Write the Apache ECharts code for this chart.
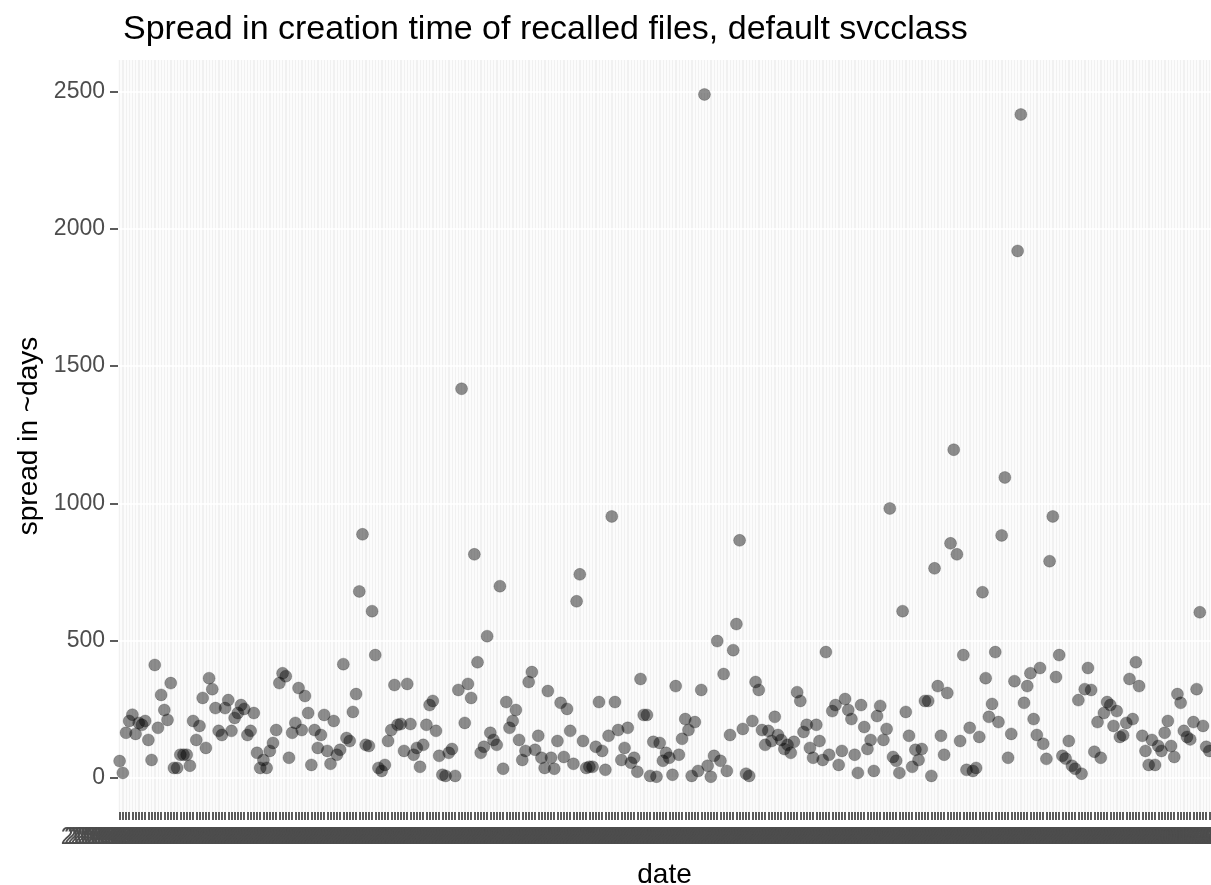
<!DOCTYPE html>
<html>
<head>
<meta charset="utf-8">
<title>Spread in creation time of recalled files</title>
<script src="https://cdn.jsdelivr.net/npm/echarts@6/dist/echarts.min.js"></script>
<style>
  html, body { margin: 0; padding: 0; background: #fff; }
  #chart { width: 1211px; height: 885px; }
</style>
</head>
<body>
<div id="chart"></div>
<script>
// spread (days) per recall date, read left to right off the plot
const spreadA = [
  61, 18, 164, 207, 230, 160, 200, 193, 207, 138,
  65, 411, 182, 302, 247, 211, 345, 36, 36, 84,
  84, 84, 44, 207, 138, 189, 291, 109, 363, 323,
  254, 171, 156, 254, 283, 171, 218, 236, 265, 251,
  156, 171, 236, 91, 36, 65, 36, 98, 127, 174,
  345, 381, 370, 73, 164, 200, 327, 174, 298, 236,
  47, 174, 109, 156, 229, 98, 51, 207, 84, 102,
  414, 145, 134, 240, 305, 679, 887, 120, 116, 607,
  447, 36, 25, 47, 134, 174, 338, 193
];
const spreadB = [
  196, 98, 342, 196, 84, 109, 40, 120, 193, 265,
  280, 171, 80, 11, 7, 91, 105, 7, 320, 1417,
  200, 342, 291, 814, 421, 91, 113, 516, 164, 138,
  120, 698, 33, 276, 182, 207, 247, 138, 65, 98,
  349, 385, 102, 153, 73, 36, 316, 73, 33, 134,
  273, 76, 251, 171, 51, 643, 741, 134, 36, 40,
  40, 113, 276, 98, 29, 153, 952, 276, 174, 65,
  109, 182, 55, 73, 22, 360, 229, 229, 7, 131,
  4, 127, 62, 91, 73, 11, 334, 84, 142, 214,
  174, 7, 203, 25, 320, 2489, 44, 4, 80, 498,
  62, 378, 25, 156, 465, 560, 865, 178, 15, 7,
  207, 349, 320, 174, 120, 171, 134, 222, 156, 138,
  105, 120, 91, 131, 312, 280, 167, 193, 109, 73
];
const spreadC = [
  193, 134, 65, 458, 84, 243, 265, 47, 98, 287,
  247, 214, 84, 18, 265, 185, 105, 138, 25, 225,
  262, 138, 178, 981, 76, 62, 18, 607, 240, 153,
  40, 102, 65, 105, 280, 280, 7, 763, 334, 153,
  84, 309, 854, 1195, 814, 134, 447, 29, 182, 25,
  36, 149, 676, 363, 222, 269, 458, 203, 883, 1094,
  73, 160, 352, 1919, 2416, 273, 334, 381, 214, 156,
  400, 124, 69, 789, 952, 367, 447, 80, 70, 134,
  44, 33, 283, 15, 323, 400, 320, 95, 203, 73,
  236, 276, 265, 189, 243, 149, 155, 200, 360, 214,
  421, 334, 153, 98, 47, 138, 47, 116, 98, 164,
  207, 116, 76, 305, 273, 171, 149, 140, 203, 323,
  603, 189, 113, 98
];
const spread = spreadA.concat(spreadB, spreadC);

// one recall date per point, consecutive days
const firstDate = "2016-05-02";
const dates = [];
const d0 = new Date(firstDate + "T00:00:00Z");
for (let i = 0; i < spread.length; i++) {
  const d = new Date(d0.getTime() + i * 86400000);
  dates.push(d.toISOString().slice(0, 10));
}

const yTicks = [0, 500, 1000, 1500, 2000, 2500];

var chartDom = document.getElementById("chart");
var myChart = echarts.init(chartDom, null, { renderer: "canvas" });
var option;

option = {
  animation: false,
  textStyle: { fontFamily: "Liberation Sans" },
  title: {
    text: "Spread in creation time of recalled files, default svcclass",
    left: 118,
    top: 8,
    textStyle: {
      fontSize: 34,
      fontWeight: "normal",
      color: "#000",
      fontFamily: "Liberation Sans",
    },
  },
  grid: {
    left: 118,
    right: 0,
    top: 60,
    bottom: 73,
    show: true,
    backgroundColor: "#F1F1F1",
    borderWidth: 0,
    containLabel: false,
    outerBoundsMode: "none",
  },
  xAxis: {
    type: "category",
    data: dates,
    boundaryGap: true,
    name: "date",
    nameLocation: "middle",
    nameGap: 49,
    nameTextStyle: { fontSize: 28, color: "#000" },
    axisLine: { show: false, onZero: false },
    axisTick: {
      show: true,
      alignWithLabel: true,
      interval: 0,
      length: 8,
      lineStyle: { color: "#333", width: 1.6 },
    },
    axisLabel: {
      interval: 0,
      fontSize: 23,
      color: "#4D4D4D",
      margin: 14,
      hideOverlap: false,
    },
    splitLine: {
      show: true,
      interval: 0,
      lineStyle: { color: "#fff", width: 1.6 },
    },
  },
  yAxis: {
    type: "value",
    min: -124.5,
    max: 2614.5,
    name: "spread in ~days",
    nameLocation: "middle",
    nameRotate: 90,
    nameGap: 74,
    nameTextStyle: { fontSize: 28, color: "#000" },
    axisLine: { show: false },
    axisTick: {
      show: true,
      length: 8,
      customValues: yTicks,
      lineStyle: { color: "#333", width: 1.6 },
    },
    axisLabel: {
      fontSize: 23,
      color: "#4D4D4D",
      margin: 13,
      customValues: yTicks,
      formatter: (v) => String(v),
    },
    splitLine: {
      show: true,
      lineStyle: { color: "#fff", width: 1.5 },
    },
  },
  series: [
    {
      name: "spread",
      type: "scatter",
      data: spread,
      symbol: "circle",
      symbolSize: 12,
      itemStyle: {
        color: "rgba(0,0,0,0.55)",
        borderColor: "rgba(0,0,0,0.25)",
        borderWidth: 1,
      },
      emphasis: { disabled: true },
    },
  ],
};

option && myChart.setOption(option);
</script>
</body>
</html>
